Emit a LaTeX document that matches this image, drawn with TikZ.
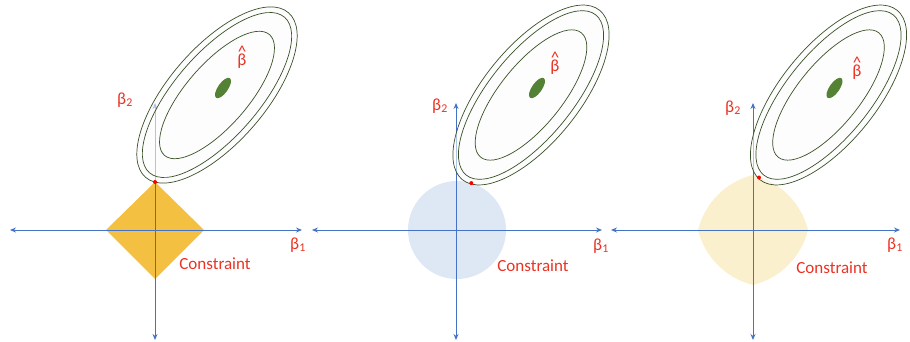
\documentclass[tikz,border=0pt]{standalone}
\usepackage{fontspec}
\setmainfont{Carlito}
\usetikzlibrary{arrows.meta}
\definecolor{axisblue}{RGB}{68,114,196}
\definecolor{lblred}{RGB}{235,50,35}
\definecolor{lassoyel}{RGB}{244,192,66}
\definecolor{ridgeblue}{RGB}{222,232,245}
\definecolor{enetyel}{RGB}{251,240,205}
\definecolor{contgreen}{RGB}{56,80,38}
\definecolor{dotgreen}{RGB}{84,130,53}
\begin{document}
\begin{tikzpicture}[x=1pt,y=-1pt,
  axis/.style={draw=axisblue,line width=0.9pt,{Stealth[length=6pt,width=5pt]}-{Stealth[length=6pt,width=5pt]}},
  contour/.style={draw=contgreen,line width=0.7pt},
  outercont/.style={contour,fill=gray!3,fill opacity=0.6},
  lbl/.style={text=lblred,font=\fontsize{17}{19}\selectfont,inner sep=0pt},
  hatlbl/.style={lbl,align=center},
  tangent/.style={fill=red}]
\useasboundingbox (0,0) rectangle (910,342);

% ---------- panel 1: lasso ----------
\begin{scope}[shift={(155,230)}]
  \fill[lassoyel] (0,-48) -- (49,0) -- (0,49) -- (-49,0) -- cycle;
  \coordinate (l1) at (-145,0); \coordinate (r1) at (147,0);
  \coordinate (t1) at (0,-127); \coordinate (b1) at (0,110);
  \draw[axis] (l1) -- (r1);
  \draw[axis] (b1) -- (t1);
  \coordinate (c1) at (62,-135);
  \filldraw[outercont,rotate around={49:(c1)}] (c1) ellipse [x radius=109pt,y radius=48pt];
  \draw[contour,rotate around={49:(c1)}] (c1) ellipse [x radius=103pt,y radius=42pt];
  \draw[contour,rotate around={49:(c1)}] (c1) ellipse [x radius=80pt,y radius=31pt];
  \coordinate (g1) at (68,-142);
  \fill[dotgreen,rotate around={55:(g1)}] (g1) ellipse [x radius=12pt,y radius=5pt];
  \fill[tangent] (0,-48) circle (2pt);
  \node[lbl] (bt1) at (-30,-130) {β\textsubscript{2}};
  \node[lbl] (bo1) at (143,15) {β\textsubscript{1}};
  \node[hatlbl] (bh1) at (87,-173) {\textasciicircum\\[-11pt]β};
  \node[lbl] (cs1) at (60,34) {Constraint};
\end{scope}

% ---------- panel 2: ridge ----------
\begin{scope}[shift={(456,230)}]
  \fill[ridgeblue] (1,0) circle (49pt);
  \coordinate (l2) at (-144,0); \coordinate (r2) at (146,0);
  \coordinate (t2) at (0,-127); \coordinate (b2) at (0,110);
  \draw[axis] (l2) -- (r2);
  \draw[axis] (b2) -- (t2);
  \coordinate (c2) at (75,-135);
  \filldraw[outercont,rotate around={51:(c2)}] (c2) ellipse [x radius=109pt,y radius=48pt];
  \draw[contour,rotate around={51:(c2)}] (c2) ellipse [x radius=103pt,y radius=42pt];
  \draw[contour,rotate around={51:(c2)}] (c2) ellipse [x radius=80pt,y radius=31pt];
  \coordinate (g2) at (81,-142);
  \fill[dotgreen,rotate around={55:(g2)}] (g2) ellipse [x radius=12pt,y radius=5pt];
  \fill[tangent] (15.3,-46.9) circle (2pt);
  \node[lbl] (bt2) at (-16,-124) {β\textsubscript{2}};
  \node[lbl] (bo2) at (145,16) {β\textsubscript{1}};
  \node[hatlbl] (bh2) at (99,-167) {\textasciicircum\\[-11pt]β};
  \node[lbl] (cs2) at (77,36) {Constraint};
\end{scope}

% ---------- panel 3: elastic net ----------
\begin{scope}[shift={(753,230)}]
  \fill[enetyel] plot[domain=0:360,samples=181]
     (\x:{55*(-0.4*(abs(cos(\x))+abs(sin(\x)))+sqrt(0.16*(abs(cos(\x))+abs(sin(\x)))^2+2.4))/1.2}) -- cycle;
  \coordinate (l3) at (-142,0); \coordinate (r3) at (147,0);
  \coordinate (t3) at (0,-127); \coordinate (b3) at (0,110);
  \draw[axis] (l3) -- (r3);
  \draw[axis] (b3) -- (t3);
  \coordinate (c3) at (75.5,-135);
  \filldraw[outercont,rotate around={51:(c3)}] (c3) ellipse [x radius=109pt,y radius=48pt];
  \draw[contour,rotate around={51:(c3)}] (c3) ellipse [x radius=103pt,y radius=42pt];
  \draw[contour,rotate around={51:(c3)}] (c3) ellipse [x radius=80pt,y radius=31pt];
  \coordinate (g3) at (81.5,-142);
  \fill[dotgreen,rotate around={55:(g3)}] (g3) ellipse [x radius=12pt,y radius=5pt];
  \fill[tangent] (6,-52.5) circle (2pt);
  \node[lbl] (bt3) at (-20,-122) {β\textsubscript{2}};
  \node[lbl] (bo3) at (142,15) {β\textsubscript{1}};
  \node[hatlbl] (bh3) at (104,-162) {\textasciicircum\\[-11pt]β};
  \node[lbl] (cs3) at (79,38) {Constraint};
\end{scope}
\end{tikzpicture}
\end{document}
